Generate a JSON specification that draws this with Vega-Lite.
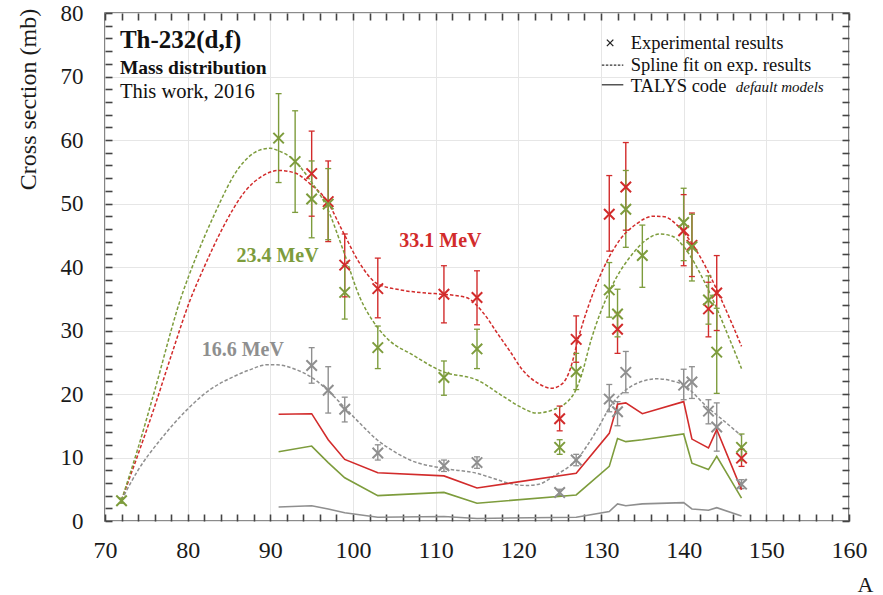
{
  "$schema": "https://vega.github.io/schema/vega-lite/v6.json",
  "width": 744,
  "height": 508,
  "autosize": "none",
  "padding": {"left": 105, "top": 13, "right": 34, "bottom": 74},
  "background": "white",
  "config": {
    "view": {"stroke": "#666666", "strokeWidth": 1.6}
  },
  "datasets": {
    "exp": [
      {"A": 95, "cs": 24.5, "lo": 21.7, "hi": 27.3, "E": "16.6 MeV"},
      {"A": 97, "cs": 20.6, "lo": 17.0, "hi": 24.3, "E": "16.6 MeV"},
      {"A": 99, "cs": 17.6, "lo": 15.6, "hi": 19.5, "E": "16.6 MeV"},
      {"A": 103, "cs": 10.7, "lo": 9.6, "hi": 12.0, "E": "16.6 MeV"},
      {"A": 111, "cs": 8.7, "lo": 7.8, "hi": 9.6, "E": "16.6 MeV"},
      {"A": 115, "cs": 9.2, "lo": 8.3, "hi": 10.1, "E": "16.6 MeV"},
      {"A": 125, "cs": 4.5, "lo": 4.0, "hi": 5.0, "E": "16.6 MeV"},
      {"A": 127, "cs": 9.6, "lo": 8.7, "hi": 10.5, "E": "16.6 MeV"},
      {"A": 131, "cs": 19.2, "lo": 17.2, "hi": 21.5, "E": "16.6 MeV"},
      {"A": 132, "cs": 17.2, "lo": 15.0, "hi": 18.8, "E": "16.6 MeV"},
      {"A": 133, "cs": 23.4, "lo": 20.2, "hi": 26.7, "E": "16.6 MeV"},
      {"A": 140, "cs": 21.4, "lo": 19.1, "hi": 23.9, "E": "16.6 MeV"},
      {"A": 141, "cs": 21.9, "lo": 19.3, "hi": 24.3, "E": "16.6 MeV"},
      {"A": 143, "cs": 17.3, "lo": 15.3, "hi": 19.1, "E": "16.6 MeV"},
      {"A": 144, "cs": 14.8, "lo": 11.0, "hi": 18.6, "E": "16.6 MeV"},
      {"A": 147, "cs": 5.8, "lo": 5.1, "hi": 6.5, "E": "16.6 MeV"},
      {"A": 95, "cs": 54.7, "lo": 48.0, "hi": 61.4, "E": "33.1 MeV"},
      {"A": 97, "cs": 50.3, "lo": 44.0, "hi": 56.7, "E": "33.1 MeV"},
      {"A": 99, "cs": 40.3, "lo": 35.3, "hi": 45.2, "E": "33.1 MeV"},
      {"A": 103, "cs": 36.6, "lo": 32.0, "hi": 41.4, "E": "33.1 MeV"},
      {"A": 111, "cs": 35.7, "lo": 31.2, "hi": 40.2, "E": "33.1 MeV"},
      {"A": 115, "cs": 35.2, "lo": 30.9, "hi": 39.4, "E": "33.1 MeV"},
      {"A": 125, "cs": 16.1, "lo": 14.2, "hi": 18.1, "E": "33.1 MeV"},
      {"A": 127, "cs": 28.6, "lo": 25.0, "hi": 32.3, "E": "33.1 MeV"},
      {"A": 131, "cs": 48.3, "lo": 42.5, "hi": 54.4, "E": "33.1 MeV"},
      {"A": 132, "cs": 30.2, "lo": 26.4, "hi": 32.8, "E": "33.1 MeV"},
      {"A": 133, "cs": 52.6, "lo": 45.8, "hi": 59.6, "E": "33.1 MeV"},
      {"A": 140, "cs": 45.7, "lo": 40.2, "hi": 51.4, "E": "33.1 MeV"},
      {"A": 141, "cs": 43.4, "lo": 38.5, "hi": 48.5, "E": "33.1 MeV"},
      {"A": 143, "cs": 33.4, "lo": 29.0, "hi": 37.6, "E": "33.1 MeV"},
      {"A": 144, "cs": 35.9, "lo": 30.0, "hi": 41.8, "E": "33.1 MeV"},
      {"A": 147, "cs": 9.9, "lo": 8.6, "hi": 11.3, "E": "33.1 MeV"},
      {"A": 72, "cs": 3.2, "lo": 2.8, "hi": 3.6, "E": "23.4 MeV"},
      {"A": 91, "cs": 60.3, "lo": 53.3, "hi": 67.3, "E": "23.4 MeV"},
      {"A": 93, "cs": 56.6, "lo": 48.6, "hi": 64.6, "E": "23.4 MeV"},
      {"A": 95, "cs": 50.7, "lo": 44.6, "hi": 56.7, "E": "23.4 MeV"},
      {"A": 97, "cs": 49.9, "lo": 44.3, "hi": 55.5, "E": "23.4 MeV"},
      {"A": 99, "cs": 36.0, "lo": 31.8, "hi": 40.2, "E": "23.4 MeV"},
      {"A": 103, "cs": 27.3, "lo": 24.0, "hi": 30.7, "E": "23.4 MeV"},
      {"A": 111, "cs": 22.6, "lo": 19.8, "hi": 25.2, "E": "23.4 MeV"},
      {"A": 115, "cs": 27.1, "lo": 24.0, "hi": 30.2, "E": "23.4 MeV"},
      {"A": 125, "cs": 11.6, "lo": 10.5, "hi": 12.8, "E": "23.4 MeV"},
      {"A": 127, "cs": 23.5, "lo": 20.7, "hi": 26.4, "E": "23.4 MeV"},
      {"A": 131, "cs": 36.4, "lo": 32.1, "hi": 40.7, "E": "23.4 MeV"},
      {"A": 132, "cs": 32.6, "lo": 29.0, "hi": 36.5, "E": "23.4 MeV"},
      {"A": 133, "cs": 49.1, "lo": 43.1, "hi": 55.2, "E": "23.4 MeV"},
      {"A": 135, "cs": 41.8, "lo": 36.8, "hi": 46.6, "E": "23.4 MeV"},
      {"A": 140, "cs": 47.0, "lo": 41.0, "hi": 52.4, "E": "23.4 MeV"},
      {"A": 141, "cs": 43.2, "lo": 37.8, "hi": 48.3, "E": "23.4 MeV"},
      {"A": 143, "cs": 34.8, "lo": 31.0, "hi": 38.6, "E": "23.4 MeV"},
      {"A": 144, "cs": 26.6, "lo": 20.1, "hi": 33.5, "E": "23.4 MeV"},
      {"A": 147, "cs": 11.6, "lo": 9.5, "hi": 13.7, "E": "23.4 MeV"}
    ],
    "spline": [
      {"A": 72, "cs": 3.3, "E": "33.1 MeV"}, {"A": 74, "cs": 10.5, "E": "33.1 MeV"}, {"A": 76, "cs": 18, "E": "33.1 MeV"}, {"A": 78, "cs": 26, "E": "33.1 MeV"},
      {"A": 80.3, "cs": 34.8, "E": "33.1 MeV"}, {"A": 82, "cs": 40, "E": "33.1 MeV"}, {"A": 84.3, "cs": 46.3, "E": "33.1 MeV"}, {"A": 87, "cs": 52, "E": "33.1 MeV"},
      {"A": 89, "cs": 54.3, "E": "33.1 MeV"}, {"A": 91, "cs": 55.2, "E": "33.1 MeV"}, {"A": 93, "cs": 54.8, "E": "33.1 MeV"}, {"A": 94.8, "cs": 53.1, "E": "33.1 MeV"},
      {"A": 96.8, "cs": 50.5, "E": "33.1 MeV"}, {"A": 98.8, "cs": 45.5, "E": "33.1 MeV"}, {"A": 100.8, "cs": 40.6, "E": "33.1 MeV"}, {"A": 102.9, "cs": 37.4, "E": "33.1 MeV"},
      {"A": 105.7, "cs": 36.4, "E": "33.1 MeV"}, {"A": 108.9, "cs": 35.9, "E": "33.1 MeV"}, {"A": 111, "cs": 35.7, "E": "33.1 MeV"}, {"A": 113.7, "cs": 35.2, "E": "33.1 MeV"},
      {"A": 115.8, "cs": 32.7, "E": "33.1 MeV"}, {"A": 117.5, "cs": 29.5, "E": "33.1 MeV"}, {"A": 119, "cs": 26.7, "E": "33.1 MeV"}, {"A": 120.5, "cs": 23.8, "E": "33.1 MeV"},
      {"A": 122.5, "cs": 21.6, "E": "33.1 MeV"}, {"A": 124, "cs": 20.9, "E": "33.1 MeV"}, {"A": 125.3, "cs": 21.6, "E": "33.1 MeV"}, {"A": 126.3, "cs": 24, "E": "33.1 MeV"},
      {"A": 127.2, "cs": 28.5, "E": "33.1 MeV"}, {"A": 129.5, "cs": 37.4, "E": "33.1 MeV"}, {"A": 132.3, "cs": 44.3, "E": "33.1 MeV"}, {"A": 134.3, "cs": 46.8, "E": "33.1 MeV"},
      {"A": 136.3, "cs": 48.0, "E": "33.1 MeV"}, {"A": 137.7, "cs": 47.9, "E": "33.1 MeV"}, {"A": 139.2, "cs": 46.6, "E": "33.1 MeV"}, {"A": 142, "cs": 41.6, "E": "33.1 MeV"},
      {"A": 144.4, "cs": 35.3, "E": "33.1 MeV"}, {"A": 145.8, "cs": 31.2, "E": "33.1 MeV"}, {"A": 147, "cs": 27.5, "E": "33.1 MeV"},
      {"A": 72, "cs": 3.3, "E": "23.4 MeV"}, {"A": 74, "cs": 11.5, "E": "23.4 MeV"}, {"A": 76, "cs": 20.5, "E": "23.4 MeV"}, {"A": 79.1, "cs": 34.8, "E": "23.4 MeV"},
      {"A": 81, "cs": 41.5, "E": "23.4 MeV"}, {"A": 83.1, "cs": 47.9, "E": "23.4 MeV"}, {"A": 86.3, "cs": 55.8, "E": "23.4 MeV"}, {"A": 88.7, "cs": 58.4, "E": "23.4 MeV"},
      {"A": 90, "cs": 58.7, "E": "23.4 MeV"}, {"A": 90.8, "cs": 58.4, "E": "23.4 MeV"}, {"A": 92.8, "cs": 56.9, "E": "23.4 MeV"}, {"A": 94.8, "cs": 53.7, "E": "23.4 MeV"},
      {"A": 96.8, "cs": 49.5, "E": "23.4 MeV"}, {"A": 98.8, "cs": 42.7, "E": "23.4 MeV"}, {"A": 100.8, "cs": 35.3, "E": "23.4 MeV"}, {"A": 102.9, "cs": 30.6, "E": "23.4 MeV"},
      {"A": 104.5, "cs": 28.3, "E": "23.4 MeV"}, {"A": 106.9, "cs": 26.4, "E": "23.4 MeV"}, {"A": 110.9, "cs": 23.5, "E": "23.4 MeV"}, {"A": 115, "cs": 22.2, "E": "23.4 MeV"},
      {"A": 118.2, "cs": 19.6, "E": "23.4 MeV"}, {"A": 120.2, "cs": 18.0, "E": "23.4 MeV"}, {"A": 122.2, "cs": 17.0, "E": "23.4 MeV"}, {"A": 124.2, "cs": 17.5, "E": "23.4 MeV"},
      {"A": 126.6, "cs": 19.8, "E": "23.4 MeV"}, {"A": 127.6, "cs": 22.8, "E": "23.4 MeV"}, {"A": 128.8, "cs": 28.5, "E": "23.4 MeV"}, {"A": 131.1, "cs": 36.4, "E": "23.4 MeV"},
      {"A": 133.9, "cs": 42.2, "E": "23.4 MeV"}, {"A": 135.5, "cs": 44.3, "E": "23.4 MeV"}, {"A": 137.1, "cs": 45.2, "E": "23.4 MeV"}, {"A": 138.7, "cs": 44.8, "E": "23.4 MeV"},
      {"A": 140, "cs": 43.2, "E": "23.4 MeV"}, {"A": 142.8, "cs": 36.9, "E": "23.4 MeV"}, {"A": 145.6, "cs": 28.5, "E": "23.4 MeV"}, {"A": 147, "cs": 24.0, "E": "23.4 MeV"},
      {"A": 72, "cs": 3.3, "E": "16.6 MeV"}, {"A": 74, "cs": 8, "E": "16.6 MeV"}, {"A": 76.7, "cs": 12.8, "E": "16.6 MeV"}, {"A": 79.9, "cs": 17.5, "E": "16.6 MeV"},
      {"A": 82.5, "cs": 20.5, "E": "16.6 MeV"}, {"A": 85.5, "cs": 22.7, "E": "16.6 MeV"}, {"A": 87.5, "cs": 23.8, "E": "16.6 MeV"}, {"A": 89.6, "cs": 24.6, "E": "16.6 MeV"},
      {"A": 90.8, "cs": 24.6, "E": "16.6 MeV"}, {"A": 93, "cs": 23.9, "E": "16.6 MeV"}, {"A": 94.9, "cs": 22.7, "E": "16.6 MeV"}, {"A": 97, "cs": 20.5, "E": "16.6 MeV"},
      {"A": 98.9, "cs": 18.0, "E": "16.6 MeV"}, {"A": 100.9, "cs": 15.3, "E": "16.6 MeV"}, {"A": 102.9, "cs": 12.8, "E": "16.6 MeV"}, {"A": 104.9, "cs": 11, "E": "16.6 MeV"},
      {"A": 106.9, "cs": 9.6, "E": "16.6 MeV"}, {"A": 110.9, "cs": 8.3, "E": "16.6 MeV"}, {"A": 115, "cs": 7.5, "E": "16.6 MeV"}, {"A": 117, "cs": 6.7, "E": "16.6 MeV"},
      {"A": 119, "cs": 5.9, "E": "16.6 MeV"}, {"A": 121, "cs": 5.6, "E": "16.6 MeV"}, {"A": 122.5, "cs": 5.8, "E": "16.6 MeV"}, {"A": 124.2, "cs": 7.0, "E": "16.6 MeV"},
      {"A": 127, "cs": 9.6, "E": "16.6 MeV"}, {"A": 129.5, "cs": 14.3, "E": "16.6 MeV"}, {"A": 131.1, "cs": 18.0, "E": "16.6 MeV"}, {"A": 133.5, "cs": 21.1, "E": "16.6 MeV"},
      {"A": 135, "cs": 22.0, "E": "16.6 MeV"}, {"A": 136.7, "cs": 22.4, "E": "16.6 MeV"}, {"A": 138.5, "cs": 22.1, "E": "16.6 MeV"}, {"A": 140, "cs": 21.4, "E": "16.6 MeV"},
      {"A": 142.8, "cs": 18.0, "E": "16.6 MeV"}, {"A": 145.2, "cs": 15.4, "E": "16.6 MeV"}, {"A": 147, "cs": 13.4, "E": "16.6 MeV"}
    ],
    "talys": [
      {"A": 91, "cs": 16.8, "E": "33.1 MeV"}, {"A": 95, "cs": 16.9, "E": "33.1 MeV"}, {"A": 97, "cs": 12.8, "E": "33.1 MeV"}, {"A": 99, "cs": 9.7, "E": "33.1 MeV"},
      {"A": 103, "cs": 7.6, "E": "33.1 MeV"}, {"A": 111, "cs": 7.1, "E": "33.1 MeV"}, {"A": 115, "cs": 5.2, "E": "33.1 MeV"}, {"A": 127, "cs": 7.5, "E": "33.1 MeV"},
      {"A": 131, "cs": 13.8, "E": "33.1 MeV"}, {"A": 132, "cs": 18.4, "E": "33.1 MeV"}, {"A": 133, "cs": 18.6, "E": "33.1 MeV"}, {"A": 135, "cs": 16.9, "E": "33.1 MeV"},
      {"A": 140, "cs": 18.8, "E": "33.1 MeV"}, {"A": 141, "cs": 12.9, "E": "33.1 MeV"}, {"A": 143, "cs": 11.5, "E": "33.1 MeV"}, {"A": 144, "cs": 14.4, "E": "33.1 MeV"},
      {"A": 147, "cs": 4.9, "E": "33.1 MeV"},
      {"A": 91, "cs": 10.9, "E": "23.4 MeV"}, {"A": 95, "cs": 11.8, "E": "23.4 MeV"}, {"A": 97, "cs": 9.2, "E": "23.4 MeV"}, {"A": 99, "cs": 6.8, "E": "23.4 MeV"},
      {"A": 103, "cs": 4.0, "E": "23.4 MeV"}, {"A": 111, "cs": 4.5, "E": "23.4 MeV"}, {"A": 115, "cs": 2.8, "E": "23.4 MeV"}, {"A": 127, "cs": 4.1, "E": "23.4 MeV"},
      {"A": 131, "cs": 8.6, "E": "23.4 MeV"}, {"A": 132, "cs": 13.0, "E": "23.4 MeV"}, {"A": 133, "cs": 12.5, "E": "23.4 MeV"}, {"A": 135, "cs": 12.8, "E": "23.4 MeV"},
      {"A": 140, "cs": 13.7, "E": "23.4 MeV"}, {"A": 141, "cs": 9.1, "E": "23.4 MeV"}, {"A": 143, "cs": 8.1, "E": "23.4 MeV"}, {"A": 144, "cs": 10.2, "E": "23.4 MeV"},
      {"A": 147, "cs": 3.6, "E": "23.4 MeV"},
      {"A": 91, "cs": 2.2, "E": "16.6 MeV"}, {"A": 95, "cs": 2.4, "E": "16.6 MeV"}, {"A": 97, "cs": 1.9, "E": "16.6 MeV"}, {"A": 99, "cs": 1.3, "E": "16.6 MeV"},
      {"A": 103, "cs": 0.6, "E": "16.6 MeV"}, {"A": 111, "cs": 0.7, "E": "16.6 MeV"}, {"A": 115, "cs": 0.4, "E": "16.6 MeV"}, {"A": 127, "cs": 0.6, "E": "16.6 MeV"},
      {"A": 131, "cs": 1.5, "E": "16.6 MeV"}, {"A": 132, "cs": 2.7, "E": "16.6 MeV"}, {"A": 133, "cs": 2.4, "E": "16.6 MeV"}, {"A": 135, "cs": 2.7, "E": "16.6 MeV"},
      {"A": 140, "cs": 2.9, "E": "16.6 MeV"}, {"A": 141, "cs": 1.9, "E": "16.6 MeV"}, {"A": 143, "cs": 1.7, "E": "16.6 MeV"}, {"A": 144, "cs": 2.1, "E": "16.6 MeV"},
      {"A": 147, "cs": 0.8, "E": "16.6 MeV"}
    ]
  },
  "layer": [
    {
      "data": {"name": "exp"},
      "mark": {"type": "rule", "strokeWidth": 1.4},
      "encoding": {
        "x": {"field": "A", "type": "quantitative", "scale": {"domain": [70, 160], "nice": false, "zero": false},
          "axis": {"orient": "bottom", "values": [70, 72, 74, 76, 78, 80, 82, 84, 86, 88, 90, 92, 94, 96, 98, 100, 102, 104, 106, 108, 110, 112, 114, 116, 118, 120, 122, 124, 126, 128, 130, 132, 134, 136, 138, 140, 142, 144, 146, 148, 150, 152, 154, 156, 158, 160],
            "labelExpr": "datum.value % 10 === 0 ? datum.label : ''",
            "grid": true, "gridColor": "#e6e6e6", "gridWidth": 1, "gridOpacity": {"condition": {"test": "datum.value % 10 === 0", "value": 1}, "value": 0},
            "ticks": true, "tickSize": -7, "tickColor": "#444444", "tickWidth": 1.6, "domain": false,
            "labelFont": "Liberation Serif", "labelColor": "#1a1a1a", "labelFontSize": 24, "labelPadding": 24, "labelFlush": false, "labelOverlap": false,
            "title": "A", "titleFont": "Liberation Serif", "titleColor": "#1a1a1a", "titleFontSize": 22, "titleFontWeight": "normal",
            "titleX": 768, "titleY": 70, "titleAlign": "right", "titleBaseline": "alphabetic"}},
        "y": {"field": "lo", "type": "quantitative", "scale": {"domain": [0, 80], "nice": false, "zero": true},
          "axis": {"orient": "left", "values": [0, 2, 4, 6, 8, 10, 12, 14, 16, 18, 20, 22, 24, 26, 28, 30, 32, 34, 36, 38, 40, 42, 44, 46, 48, 50, 52, 54, 56, 58, 60, 62, 64, 66, 68, 70, 72, 74, 76, 78, 80],
            "labelExpr": "datum.value % 10 === 0 ? datum.label : ''",
            "grid": true, "gridColor": "#e6e6e6", "gridWidth": 1, "gridOpacity": {"condition": {"test": "datum.value % 10 === 0", "value": 1}, "value": 0},
            "ticks": true, "tickSize": -7, "tickColor": "#444444", "tickWidth": 1.6, "domain": false,
            "labelFont": "Liberation Serif", "labelColor": "#1a1a1a", "labelFontSize": 23, "labelPadding": 29, "labelFlush": false, "labelOverlap": false,
            "title": "Cross section (mb)", "titleFont": "Liberation Serif", "titleColor": "#1a1a1a", "titleFontSize": 24, "titleFontWeight": "normal",
            "titleX": -70, "titleY": 86, "titleAngle": -90, "titleAlign": "center", "titleBaseline": "alphabetic"}},
        "y2": {"field": "hi"},
        "color": {"field": "E", "type": "nominal", "scale": {"domain": ["33.1 MeV", "23.4 MeV", "16.6 MeV"], "range": ["#d22b2b", "#7d9c3c", "#8f8f8f"]}, "legend": null}
      }
    },
    {
      "data": {"name": "spline"},
      "mark": {"type": "line", "interpolate": "monotone", "strokeDash": [3.5, 2], "strokeWidth": 1.5},
      "encoding": {
        "x": {"field": "A", "type": "quantitative", "scale": {"domain": [70, 160], "nice": false, "zero": false},
          "axis": {"orient": "top", "values": [70, 72, 74, 76, 78, 80, 82, 84, 86, 88, 90, 92, 94, 96, 98, 100, 102, 104, 106, 108, 110, 112, 114, 116, 118, 120, 122, 124, 126, 128, 130, 132, 134, 136, 138, 140, 142, 144, 146, 148, 150, 152, 154, 156, 158, 160],
            "grid": false, "labels": false, "domain": false, "ticks": true, "tickSize": -7, "tickColor": "#444444", "tickWidth": 1.6, "title": null}},
        "y": {"field": "cs", "type": "quantitative", "scale": {"domain": [0, 80], "nice": false, "zero": true},
          "axis": {"orient": "right", "values": [0, 2, 4, 6, 8, 10, 12, 14, 16, 18, 20, 22, 24, 26, 28, 30, 32, 34, 36, 38, 40, 42, 44, 46, 48, 50, 52, 54, 56, 58, 60, 62, 64, 66, 68, 70, 72, 74, 76, 78, 80],
            "grid": false, "labels": false, "domain": false, "ticks": true, "tickSize": -7, "tickColor": "#444444", "tickWidth": 1.6, "title": null}},
        "color": {"field": "E", "type": "nominal", "scale": {"domain": ["33.1 MeV", "23.4 MeV", "16.6 MeV"], "range": ["#d22b2b", "#7d9c3c", "#8f8f8f"]}, "legend": null}
      }
    },
    {
      "data": {"name": "exp"},
      "mark": {"type": "point", "shape": "M-1,0L1,0", "size": 36, "filled": false, "strokeWidth": 1.3, "opacity": 1},
      "encoding": {
        "x": {"field": "A", "type": "quantitative", "axis": null},
        "y": {"field": "lo", "type": "quantitative", "axis": null},
        "color": {"field": "E", "type": "nominal", "scale": {"domain": ["33.1 MeV", "23.4 MeV", "16.6 MeV"], "range": ["#d22b2b", "#7d9c3c", "#8f8f8f"]}, "legend": null}
      }
    },
    {
      "data": {"name": "exp"},
      "mark": {"type": "point", "shape": "M-1,0L1,0", "size": 36, "filled": false, "strokeWidth": 1.3, "opacity": 1},
      "encoding": {
        "x": {"field": "A", "type": "quantitative", "axis": null},
        "y": {"field": "hi", "type": "quantitative", "axis": null},
        "color": {"field": "E", "type": "nominal", "scale": {"domain": ["33.1 MeV", "23.4 MeV", "16.6 MeV"], "range": ["#d22b2b", "#7d9c3c", "#8f8f8f"]}, "legend": null}
      }
    },
    {
      "data": {"name": "talys"},
      "mark": {"type": "line", "strokeWidth": 1.6},
      "encoding": {
        "x": {"field": "A", "type": "quantitative", "axis": null},
        "y": {"field": "cs", "type": "quantitative", "axis": null},
        "color": {"field": "E", "type": "nominal", "scale": {"domain": ["33.1 MeV", "23.4 MeV", "16.6 MeV"], "range": ["#d22b2b", "#7d9c3c", "#8f8f8f"]}, "legend": null}
      }
    },
    {
      "data": {"name": "exp"},
      "mark": {"type": "point", "shape": "M-1,-1L1,1M-1,1L1,-1", "size": 110, "filled": false, "strokeWidth": 2, "opacity": 1},
      "encoding": {
        "x": {"field": "A", "type": "quantitative", "axis": null},
        "y": {"field": "cs", "type": "quantitative", "axis": null},
        "color": {"field": "E", "type": "nominal", "scale": {"domain": ["33.1 MeV", "23.4 MeV", "16.6 MeV"], "range": ["#d22b2b", "#7d9c3c", "#8f8f8f"]}, "legend": null}
      }
    },
    {
      "data": {"values": [
        {"label": "33.1 MeV", "A": 105.6, "cs": 43.2, "E": "33.1 MeV"},
        {"label": "23.4 MeV", "A": 85.9, "cs": 40.8, "E": "23.4 MeV"},
        {"label": "16.6 MeV", "A": 81.7, "cs": 26.0, "E": "16.6 MeV"}
      ]},
      "mark": {"type": "text", "align": "left", "baseline": "alphabetic", "fontSize": 20, "fontWeight": "bold", "font": "Liberation Serif"},
      "encoding": {
        "x": {"field": "A", "type": "quantitative", "axis": null},
        "y": {"field": "cs", "type": "quantitative", "axis": null},
        "text": {"field": "label"},
        "color": {"field": "E", "type": "nominal", "scale": {"domain": ["33.1 MeV", "23.4 MeV", "16.6 MeV"], "range": ["#c0262c", "#7d9c3c", "#9a9a9a"]}, "legend": null}
      }
    },
    {
      "data": {"values": [{"label": "Th-232(d,f)", "A": 71.8, "cs": 74.5}]},
      "mark": {"type": "text", "align": "left", "baseline": "alphabetic", "fontSize": 25, "fontWeight": "bold", "font": "Liberation Serif", "color": "#111"},
      "encoding": {"x": {"field": "A", "type": "quantitative", "axis": null}, "y": {"field": "cs", "type": "quantitative", "axis": null}, "text": {"field": "label"}}
    },
    {
      "data": {"values": [{"label": "Mass distribution", "A": 71.8, "cs": 70.4}]},
      "mark": {"type": "text", "align": "left", "baseline": "alphabetic", "fontSize": 19.5, "fontWeight": "bold", "font": "Liberation Serif", "color": "#111"},
      "encoding": {"x": {"field": "A", "type": "quantitative", "axis": null}, "y": {"field": "cs", "type": "quantitative", "axis": null}, "text": {"field": "label"}}
    },
    {
      "data": {"values": [{"label": "This work, 2016", "A": 71.8, "cs": 66.6}]},
      "mark": {"type": "text", "align": "left", "baseline": "alphabetic", "fontSize": 20.5, "font": "Liberation Serif", "color": "#111"},
      "encoding": {"x": {"field": "A", "type": "quantitative", "axis": null}, "y": {"field": "cs", "type": "quantitative", "axis": null}, "text": {"field": "label"}}
    },
    {
      "data": {"values": [
        {"label": "Experimental  results", "A": 133.6, "cs": 74.4},
        {"label": "Spline fit on exp. results", "A": 133.6, "cs": 70.9},
        {"label": "TALYS code", "A": 133.6, "cs": 67.6}
      ]},
      "mark": {"type": "text", "align": "left", "baseline": "alphabetic", "fontSize": 18.5, "font": "Liberation Serif", "color": "#111"},
      "encoding": {"x": {"field": "A", "type": "quantitative", "axis": null}, "y": {"field": "cs", "type": "quantitative", "axis": null}, "text": {"field": "label"}}
    },
    {
      "data": {"values": [{"label": "default models", "A": 146.3, "cs": 67.6}]},
      "mark": {"type": "text", "align": "left", "baseline": "alphabetic", "fontSize": 15, "fontStyle": "italic", "font": "Liberation Serif", "color": "#111"},
      "encoding": {"x": {"field": "A", "type": "quantitative", "axis": null}, "y": {"field": "cs", "type": "quantitative", "axis": null}, "text": {"field": "label"}}
    },
    {
      "data": {"values": [{"A": 131.1, "cs": 75.3}]},
      "mark": {"type": "point", "shape": "M-1,-1L1,1M-1,1L1,-1", "size": 42, "filled": false, "strokeWidth": 1.3, "color": "#222", "opacity": 1},
      "encoding": {"x": {"field": "A", "type": "quantitative", "axis": null}, "y": {"field": "cs", "type": "quantitative", "axis": null}}
    },
    {
      "data": {"values": [{"A": 130.1, "A2": 132.7, "cs": 71.8}]},
      "mark": {"type": "rule", "strokeDash": [2.5, 1.5], "strokeWidth": 1.3, "color": "#333"},
      "encoding": {"x": {"field": "A", "type": "quantitative", "axis": null}, "x2": {"field": "A2"}, "y": {"field": "cs", "type": "quantitative", "axis": null}}
    },
    {
      "data": {"values": [{"A": 130.1, "A2": 132.7, "cs": 68.7}]},
      "mark": {"type": "rule", "strokeWidth": 1.5, "color": "#555"},
      "encoding": {"x": {"field": "A", "type": "quantitative", "axis": null}, "x2": {"field": "A2"}, "y": {"field": "cs", "type": "quantitative", "axis": null}}
    }
  ],
  "resolve": {"axis": {"x": "independent", "y": "independent"}}
}
